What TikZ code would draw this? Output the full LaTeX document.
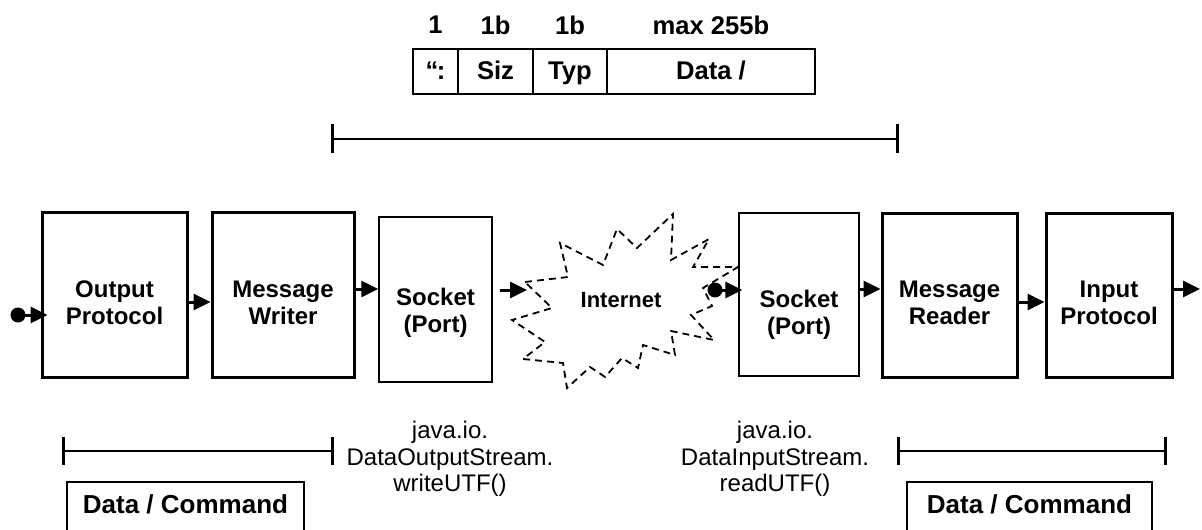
\documentclass[tikz,border=0pt]{standalone}
\usepackage{fontspec}
\setmainfont{Liberation Sans}
\usetikzlibrary{arrows.meta,calc}
\begin{document}
\begin{tikzpicture}[x=0.5pt,y=-0.5pt,
  thickbox/.style={draw,line width=1.5pt,inner sep=0pt,fill=white},
  thinbox/.style={draw,line width=0.75pt,inner sep=0pt,fill=white},
  boxtext/.style={font=\bfseries\fontsize{12}{13.5}\selectfont,align=center,inner sep=0pt},
  hdr/.style={font=\bfseries\fontsize{12.8}{14}\selectfont,inner sep=0pt},
  cell/.style={draw,line width=0.75pt,inner sep=0pt,minimum height=22.5pt,text height=9.2pt,text depth=1.5pt,font=\bfseries\fontsize{12.8}{14}\selectfont},
  javatext/.style={font=\fontsize{12}{13.25}\selectfont,align=center,inner sep=0pt},
  cmdtext/.style={font=\bfseries\fontsize{13}{15}\selectfont,inner sep=0pt},
  arr/.style={line width=1.5pt,-{Triangle[length=8.5pt,width=8pt]}},
  blackdot/.style={circle,fill=black,inner sep=0pt,minimum size=7.5pt},
  bracketline/.style={line width=1pt},
  bracketend/.style={line width=1.5pt},
  cloudline/.style={line width=0.9pt,dash pattern=on 3.5pt off 2.5pt}
]
\useasboundingbox (0,0) rectangle (1202,529);
\clip (0,0) rectangle (1202,529);

% header table
\node[cell,minimum width=22.5pt] (c1) at (435.5,71.5) {“\kern-0.8pt:};
\node[cell,minimum width=37.5pt] (c2) at (495.5,71.5) {Siz};
\node[cell,minimum width=37pt] (c3) at (570,71.5) {Typ};
\node[cell,minimum width=104pt] (c4) at (711,71.5) {Data /};
\node[hdr] (h1) at (c1.center |- 0,25) {1};
\node[hdr] (h2) at (c2.center |- 0,25) {1b};
\node[hdr] (h3) at (c3.center |- 0,25) {1b};
\node[hdr] (h4) at (c4.center |- 0,25) {max 255b};

% top bracket
\coordinate (tb1) at (332,139);
\coordinate (tb2) at (897,139);
\draw[bracketline] (tb1) -- (tb2);
\draw[bracketend] ($(tb1)+(0,-15)$) -- ($(tb1)+(0,14)$);
\draw[bracketend] ($(tb2)+(0,-15)$) -- ($(tb2)+(0,14)$);

% cloud
\draw[cloudline] (525,282) -- (568,277) -- (560,243) -- (603,265) -- (617,229) -- (637,248)
  -- (673,214) -- (671,260) -- (709,239) -- (693,267) -- (738,267) -- (703,288) -- (712,306)
  -- (691,315) -- (714,340) -- (671,331) -- (675,355) -- (643,345) -- (638,368) -- (622,358)
  -- (605,377) -- (590,367) -- (567,388) -- (563,363) -- (523,359) -- (545,342) -- (512,320)
  -- (552,308) -- cycle;
\node[font=\bfseries\fontsize{11}{13}\selectfont,inner sep=0pt] (inet) at (621,300) {Internet};
\coordinate (inetin) at (527,290);

% boxes
\node[thickbox,minimum width=72.5pt,minimum height=82.5pt] (op) at (114.5,294.5) {};
\node[thickbox,minimum width=71pt,minimum height=82.5pt] (mw) at (283,294.5) {};
\node[thinbox,minimum width=56.5pt,minimum height=82.5pt] (ls) at (435.5,299.5) {};
\node[thinbox,minimum width=60pt,minimum height=81.5pt] (rs) at (799,294.5) {};
\node[thickbox,minimum width=67.5pt,minimum height=82pt] (mr) at (949.5,295) {};
\node[thickbox,minimum width=63pt,minimum height=82pt] (ip) at (1109,295) {};

\node[boxtext] (opt) at (114.5,303) {Output\\Protocol};
\node[boxtext] (mwt) at (283,303) {Message\\Writer};
\node[boxtext] (lst) at (435.5,313) {Socket\\(Port)};
\node[boxtext] (rst) at (799,315) {Socket\\(Port)};
\node[boxtext] (mrt) at (949.5,303) {Message\\Reader};
\node[boxtext] (ipt) at (1109,303) {Input\\Protocol};

% arrows
\node[blackdot] (d1) at (18,315) {};
\node[blackdot] (d2) at (715,290) {};
\coordinate (outend) at (1200,289);
\draw[arr] (d1.center) -- ($(op.west |- d1)+(7,0)$);
\draw[arr] ($(op.east)+(-3,7.5)$) -- ($(mw.west)+(0,7.5)$);
\draw[arr] ($(mw.east)+(0,-5.5)$) -- (ls.west |- 0,289);
\draw[arr] ($(ls.east |- inetin)+(7,0)$) -- (inetin);
\draw[arr] (d2.center) -- ($(rs.west |- d2)+(4,0)$);
\draw[arr] ($(rs.east)+(0,-5.5)$) -- (mr.west |- 0,289);
\draw[arr] ($(mr.east)+(0,7)$) -- (ip.west |- 0,302);
\draw[arr] ($(ip.east)+(0,-6)$) -- (outend);

% bottom brackets
\coordinate (bl1) at (63,451);
\coordinate (bl2) at (332,451);
\coordinate (br1) at (898,451);
\coordinate (br2) at (1165,451);
\draw[bracketline] (bl1) -- (bl2);
\draw[bracketend] ($(bl1)+(0,-14)$) -- ($(bl1)+(0,14)$);
\draw[bracketend] ($(bl2)+(0,-14)$) -- ($(bl2)+(0,14)$);
\draw[bracketline] (br1) -- (br2);
\draw[bracketend] ($(br1)+(0,-14)$) -- ($(br1)+(0,14)$);
\draw[bracketend] ($(br2)+(0,-14)$) -- ($(br2)+(0,14)$);

% java texts
\node[javatext] (jw) at (450,459) {java.io.\\DataOutputStream.\\writeUTF()};
\node[javatext] (jr) at (775,459) {java.io.\\DataInputStream.\\readUTF()};

% bottom boxes
\node[thinbox,minimum width=118.5pt,minimum height=39pt] (dcl) at (185.5,521) {};
\node[thinbox,minimum width=122.5pt,minimum height=39pt] (dcr) at (1029.5,521) {};
\node[cmdtext] (dclt) at (185.5,504) {Data / Command};
\node[cmdtext] (dcrt) at (1029.5,504) {Data / Command};
\end{tikzpicture}
\end{document}
